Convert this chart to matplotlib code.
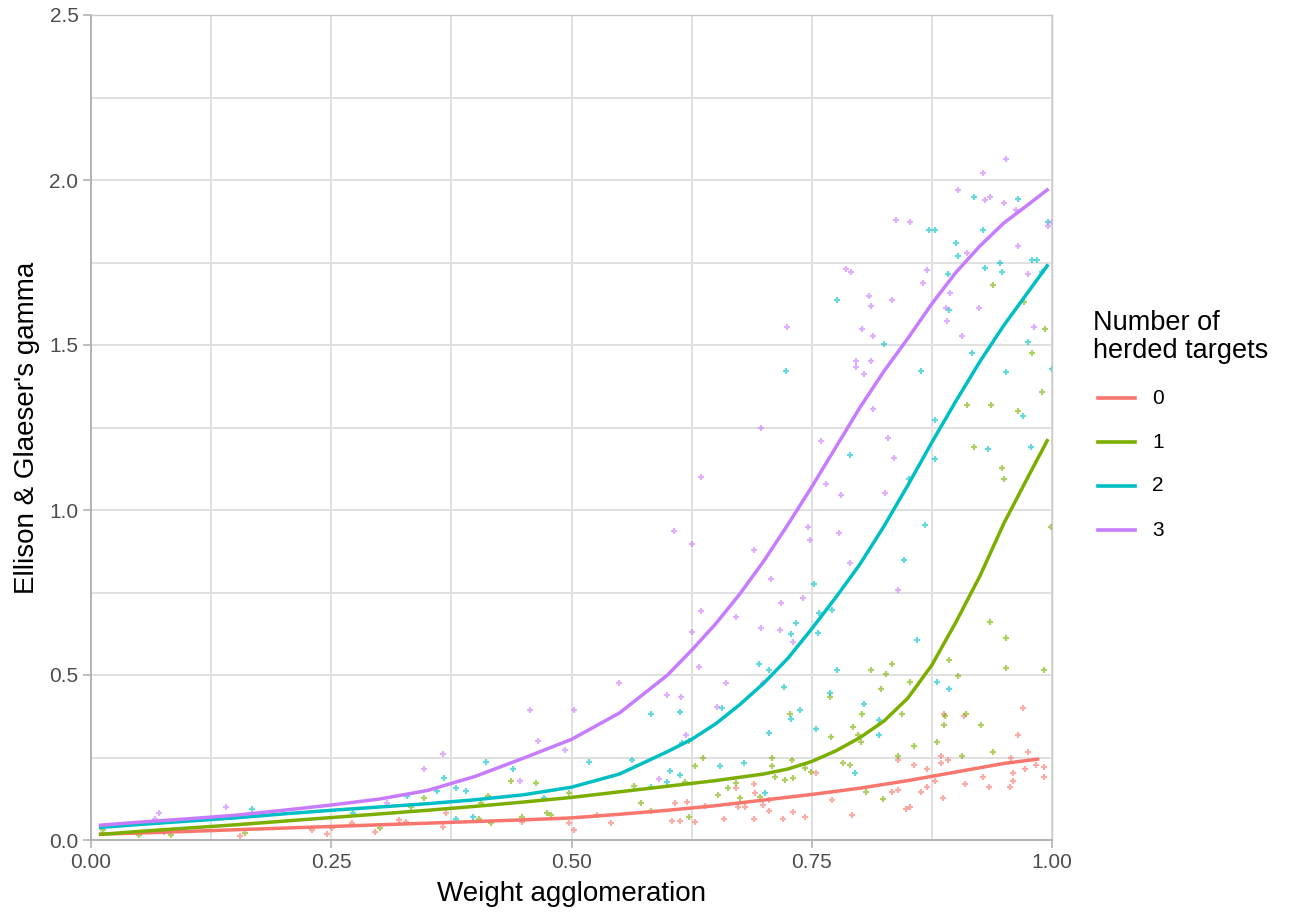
import matplotlib
matplotlib.use("Agg")
import matplotlib.pyplot as plt
from matplotlib.lines import Line2D
import numpy as np

plt.rcParams['font.family'] = ['Liberation Sans', 'DejaVu Sans']

# ---------------- data ----------------
groups = ["0", "1", "2", "3"]
colors = ["#F8766D", "#7CAE00", "#00BFC4", "#C77CFF"]

# smoothed trend lines
smooth_0_x = [0.01, 0.05, 0.10, 0.15, 0.20, 0.25, 0.30, 0.35, 0.40, 0.45, 0.50,
              0.55, 0.60, 0.65, 0.70, 0.75, 0.80, 0.85, 0.90, 0.95, 0.985]
smooth_0_y = [0.018, 0.021, 0.026, 0.031, 0.036, 0.041, 0.046, 0.051, 0.056, 0.061, 0.067,
              0.078, 0.090, 0.104, 0.121, 0.138, 0.157, 0.180, 0.206, 0.232, 0.245]
smooth_1_x = [0.01, 0.05, 0.10, 0.15, 0.20, 0.25, 0.30, 0.35, 0.40, 0.45, 0.50, 0.55,
              0.60, 0.65, 0.70, 0.725, 0.75, 0.775, 0.80, 0.825, 0.85, 0.875, 0.90,
              0.925, 0.95, 0.975, 0.995]
smooth_1_y = [0.017, 0.026, 0.036, 0.046, 0.057, 0.068, 0.079, 0.090, 0.102, 0.115, 0.129,
              0.146, 0.163, 0.180, 0.200, 0.215, 0.238, 0.270, 0.310, 0.360, 0.430, 0.530,
              0.660, 0.800, 0.960, 1.100, 1.210]
smooth_2_x = [0.01, 0.05, 0.10, 0.15, 0.20, 0.25, 0.30, 0.35, 0.40, 0.45, 0.50, 0.55,
              0.60, 0.625, 0.65, 0.675, 0.70, 0.725, 0.75, 0.775, 0.80, 0.825, 0.85,
              0.875, 0.90, 0.925, 0.95, 0.975, 0.995]
smooth_2_y = [0.038, 0.047, 0.057, 0.067, 0.079, 0.090, 0.100, 0.110, 0.122, 0.137, 0.160,
              0.200, 0.268, 0.305, 0.352, 0.410, 0.475, 0.550, 0.640, 0.735, 0.835, 0.950,
              1.075, 1.205, 1.330, 1.450, 1.560, 1.660, 1.740]
smooth_3_x = [0.01, 0.05, 0.10, 0.15, 0.20, 0.25, 0.30, 0.35, 0.40, 0.45, 0.50, 0.55,
              0.60, 0.625, 0.65, 0.675, 0.70, 0.725, 0.75, 0.775, 0.80, 0.825, 0.85,
              0.875, 0.90, 0.925, 0.95, 0.975, 0.995]
smooth_3_y = [0.045, 0.054, 0.064, 0.075, 0.090, 0.106, 0.124, 0.150, 0.193, 0.248, 0.305,
              0.385, 0.500, 0.575, 0.655, 0.745, 0.845, 0.955, 1.070, 1.190, 1.310, 1.420,
              1.520, 1.625, 1.720, 1.800, 1.870, 1.925, 1.970]

# observations (x, gamma)
pts_0_x = [0.97, 0.965, 0.888, 0.908, 0.975, 0.84, 0.856, 0.87, 0.884, 0.884, 0.892, 0.957,
           0.959, 0.959, 0.956, 0.972, 0.983, 0.992, 0.992, 0.928, 0.934, 0.909, 0.87, 0.864,
           0.878, 0.833, 0.84, 0.887, 0.852, 0.848, 0.792,
           0.497, 0.503, 0.541, 0.527, 0.605, 0.613, 0.608, 0.62, 0.629, 0.639, 0.659, 0.671,
           0.673, 0.69, 0.691, 0.681, 0.69, 0.699, 0.706, 0.705, 0.72, 0.73, 0.743, 0.754, 0.771,
           0.369, 0.272, 0.32, 0.328, 0.366, 0.296, 0.23, 0.246, 0.251, 0.448, 0.155, 0.076]
pts_0_y = [0.40, 0.318, 0.382, 0.376, 0.267, 0.242, 0.227, 0.215, 0.255, 0.233, 0.242, 0.248,
           0.203, 0.179, 0.161, 0.215, 0.227, 0.221, 0.191, 0.191, 0.161, 0.17, 0.161, 0.145,
           0.179, 0.145, 0.152, 0.127, 0.10, 0.094, 0.076,
           0.052, 0.03, 0.052, 0.076, 0.058, 0.058, 0.112, 0.115, 0.055, 0.103, 0.064, 0.158,
           0.10, 0.17, 0.142, 0.10, 0.064, 0.106, 0.121, 0.088, 0.064, 0.085, 0.07, 0.203, 0.121,
           0.082, 0.052, 0.061, 0.055, 0.04, 0.024, 0.03, 0.018, 0.036, 0.055, 0.012, 0.024]

pts_1_x = [0.939, 0.971, 0.993, 0.979, 0.99, 0.912, 0.937, 0.965, 0.919, 0.948, 0.95, 0.999,
           0.935, 0.952, 0.812, 0.834, 0.827, 0.893, 0.902, 0.952, 0.992, 0.822, 0.852,
           0.802, 0.844, 0.793, 0.798, 0.801, 0.889, 0.91, 0.888, 0.926, 0.88, 0.856, 0.84,
           0.906, 0.939, 0.79, 0.806, 0.824,
           0.622, 0.628, 0.637, 0.709, 0.709, 0.729, 0.727, 0.77, 0.769, 0.782, 0.565, 0.572,
           0.583, 0.618, 0.652, 0.663, 0.671, 0.675, 0.696, 0.712, 0.722, 0.73, 0.743, 0.749, 0.622,
           0.437, 0.463, 0.346, 0.413, 0.406, 0.497, 0.333, 0.474, 0.479, 0.448, 0.404, 0.416, 0.301,
           0.012, 0.05, 0.083, 0.16]
pts_1_y = [1.682, 1.63, 1.549, 1.476, 1.358, 1.318, 1.318, 1.30, 1.19, 1.127, 1.094, 0.948,
           0.66, 0.612, 0.515, 0.533, 0.503, 0.545, 0.497, 0.521, 0.515, 0.458, 0.479,
           0.382, 0.382, 0.342, 0.318, 0.297, 0.376, 0.382, 0.348, 0.348, 0.297, 0.285, 0.255,
           0.255, 0.267, 0.227, 0.145, 0.124,
           0.30, 0.224, 0.248, 0.248, 0.224, 0.242, 0.382, 0.312, 0.433, 0.233, 0.164, 0.112,
           0.088, 0.176, 0.136, 0.158, 0.173, 0.127, 0.13, 0.191, 0.182, 0.188, 0.218, 0.206, 0.07,
           0.179, 0.173, 0.127, 0.133, 0.112, 0.142, 0.10, 0.082, 0.076, 0.07, 0.064, 0.052, 0.036,
           0.03, 0.015, 0.015, 0.021]

pts_2_x = [0.776, 0.723, 0.79, 0.752,
           0.919, 0.965, 0.872, 0.878, 0.928, 0.996, 0.90, 0.902, 0.979, 0.984, 0.892, 0.93,
           0.946, 0.948, 0.99, 0.893, 0.825, 0.975, 0.917, 1.0, 0.864, 0.952, 0.97, 0.878,
           0.878, 0.933, 0.978, 0.851, 0.868, 0.846, 0.86, 0.88, 0.893,
           0.804, 0.82, 0.82, 0.795,
           0.758, 0.771, 0.734, 0.728, 0.756, 0.695, 0.705, 0.776, 0.721, 0.769, 0.657, 0.738,
           0.728, 0.583, 0.613, 0.754, 0.705, 0.615, 0.518, 0.563, 0.655, 0.68, 0.602, 0.613,
           0.583, 0.599, 0.701,
           0.411, 0.439, 0.367, 0.38, 0.39, 0.36, 0.329, 0.471, 0.397, 0.38, 0.273, 0.168]
pts_2_y = [1.636, 1.42, 1.167, 0.776,
           1.948, 1.942, 1.85, 1.85, 1.85, 1.873, 1.81, 1.77, 1.758, 1.758, 1.715, 1.733,
           1.75, 1.72, 1.72, 1.606, 1.503, 1.509, 1.476, 1.427, 1.42, 1.418, 1.285, 1.273,
           1.155, 1.185, 1.19, 1.094, 0.955, 0.848, 0.606, 0.479, 0.458,
           0.412, 0.364, 0.318, 0.203,
           0.688, 0.697, 0.658, 0.624, 0.627, 0.533, 0.515, 0.515, 0.464, 0.445, 0.40, 0.394,
           0.367, 0.382, 0.388, 0.336, 0.324, 0.294, 0.236, 0.242, 0.224, 0.233, 0.209, 0.197,
           0.161, 0.176, 0.142,
           0.236, 0.215, 0.188, 0.158, 0.148, 0.148, 0.133, 0.127, 0.07, 0.064, 0.082, 0.094]

pts_3_x = [0.786, 0.791, 0.724,
           0.697, 0.635, 0.607, 0.625, 0.69, 0.708, 0.718, 0.741, 0.76, 0.765, 0.78, 0.746,
           0.748, 0.778, 0.79,
           0.952, 0.928, 0.902, 0.93, 0.936, 0.95, 0.963, 0.838, 0.852, 0.996, 1.0, 0.965,
           0.912, 0.87, 0.866, 0.975, 0.894, 0.81, 0.812, 0.833, 0.89, 0.891, 0.924, 0.802,
           0.814, 0.906, 0.981, 0.796, 0.796, 0.812, 0.804, 0.814, 0.829,
           0.836, 0.826, 0.84,
           0.635, 0.625, 0.671, 0.697, 0.717, 0.73, 0.633, 0.549, 0.661, 0.699, 0.599, 0.614,
           0.503, 0.651, 0.493, 0.619, 0.591,
           0.457, 0.465, 0.366, 0.346, 0.446, 0.308,
           0.071, 0.067, 0.14]
pts_3_y = [1.73, 1.72, 1.555,
           1.25, 1.10, 0.936, 0.897, 0.879, 0.79, 0.718, 0.733, 1.21, 1.08, 1.045, 0.948,
           0.909, 0.93, 0.839,
           2.064, 2.02, 1.97, 1.94, 1.95, 1.93, 1.91, 1.88, 1.873, 1.86, 1.873, 1.80,
           1.78, 1.727, 1.688, 1.715, 1.658, 1.648, 1.617, 1.636, 1.612, 1.573, 1.612, 1.549,
           1.527, 1.527, 1.555, 1.452, 1.433, 1.452, 1.412, 1.306, 1.218,
           1.158, 1.052, 0.758,
           0.694, 0.63, 0.676, 0.642, 0.636, 0.60, 0.524, 0.476, 0.476, 0.476, 0.439, 0.433,
           0.394, 0.403, 0.273, 0.318, 0.185,
           0.394, 0.30, 0.261, 0.215, 0.179, 0.112,
           0.082, 0.064, 0.10]

x_ticks = [0.0, 0.25, 0.5, 0.75, 1.0]
x_tick_labels = ["0.00", "0.25", "0.50", "0.75", "1.00"]
y_ticks = [0.0, 0.5, 1.0, 1.5, 2.0, 2.5]
y_tick_labels = ["0.0", "0.5", "1.0", "1.5", "2.0", "2.5"]

# ---------------- figure ----------------
W, H = 1291, 915
fig = plt.figure(figsize=(W / 100, H / 100), dpi=100)
ax = fig.add_axes([91 / W, 1 - 840 / H, (1052 - 91) / W, (840 - 15) / H])

ax.set_xlim(0, 1.0)
ax.set_ylim(0, 2.5)

grid_c = "#e0e0e0"
for v in np.arange(0, 1.0001, 0.125):
    ax.axvline(v, color=grid_c, lw=1.4, zorder=0)
for v in np.arange(0, 2.5001, 0.25):
    ax.axhline(v, color=grid_c, lw=1.4, zorder=0)

pts_x = [pts_0_x, pts_1_x, pts_2_x, pts_3_x]
pts_y = [pts_0_y, pts_1_y, pts_2_y, pts_3_y]
for px, py, c in zip(pts_x, pts_y, colors):
    ax.plot(px, py, linestyle="none", marker="+", ms=5, mew=1.6,
            color=c, alpha=0.6, zorder=2)

sm_x = [smooth_0_x, smooth_1_x, smooth_2_x, smooth_3_x]
sm_y = [smooth_0_y, smooth_1_y, smooth_2_y, smooth_3_y]
for sx, sy, c in zip(sm_x, sm_y, colors):
    ax.plot(sx, sy, color=c, lw=2.5, zorder=3, solid_joinstyle="round")

ax.set_xticks(x_ticks)
ax.set_xticklabels(x_tick_labels)
ax.set_yticks(y_ticks)
ax.set_yticklabels(y_tick_labels)
ax.tick_params(axis="both", length=6, width=1.2, color="#b3b3b3",
               labelsize=15, labelcolor="#4d4d4d", pad=3)

for s in ["left", "bottom"]:
    ax.spines[s].set_color("#b3b3b3")
    ax.spines[s].set_linewidth(1.4)
for s in ["top", "right"]:
    ax.spines[s].set_color("#c8c8c8")
    ax.spines[s].set_linewidth(1.0)

ax.set_xlabel("Weight agglomeration", fontsize=20, color="black", labelpad=7)
ax.set_ylabel("Ellison & Glaeser's gamma", fontsize=20, color="black", labelpad=7)

# legend (drawn in figure pixel coordinates)
def fx(p):
    return p / W

def fy(p):
    return 1 - p / H

fig.text(fx(1093), fy(330), "Number of", fontsize=19.5, va="baseline", ha="left")
fig.text(fx(1093), fy(358), "herded targets", fontsize=19.5, va="baseline", ha="left")
row_y = [398, 442, 486, 530]
for g, c, ry in zip(groups, colors, row_y):
    fig.add_artist(Line2D([fx(1098), fx(1135)], [fy(ry), fy(ry)], color=c, lw=2.6,
                          transform=fig.transFigure))
    fig.text(fx(1152), fy(ry), g, fontsize=15, va="center", ha="left")

fig.savefig("out.png", dpi=100)
